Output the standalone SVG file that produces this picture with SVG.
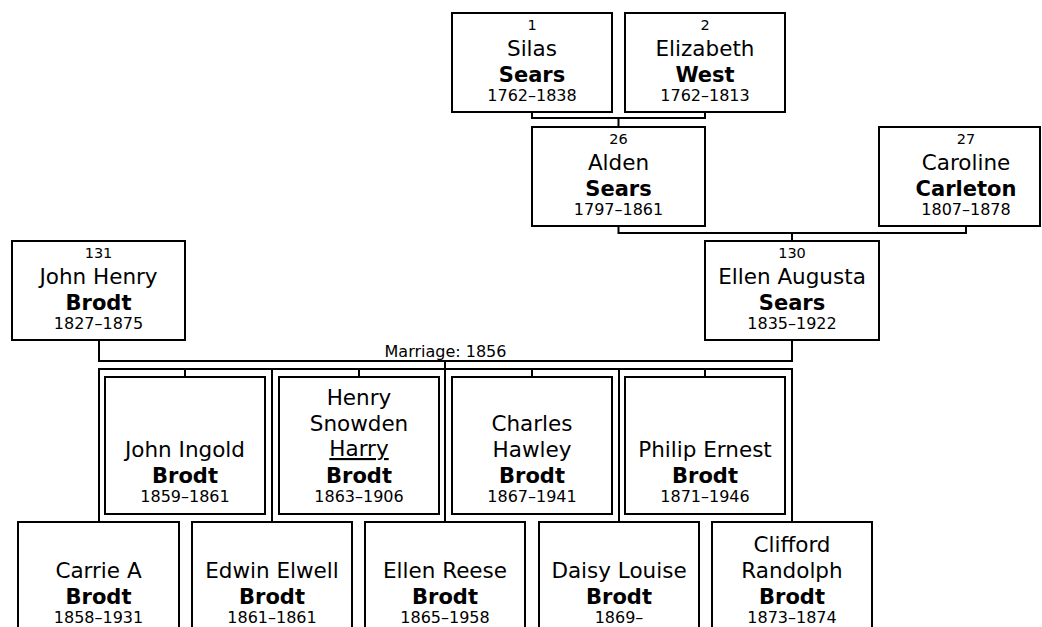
<svg xmlns="http://www.w3.org/2000/svg" width="1042" height="627" viewBox="0 0 1042 627">
<style>
.box{fill:#fff;stroke:#000;stroke-width:2}
.ln{fill:none;stroke:#000;stroke-width:2}
text{font-family:"DejaVu Sans",Verdana,sans-serif;fill:#000;text-anchor:middle}
.num{font-size:14.5px}
.nm{font-size:21.5px}
.sn{font-size:21px;font-weight:bold}
.dt{font-size:16px}
.mar{font-size:16px}
</style>
<rect width="1042" height="627" fill="#fff"/>
<g id="connectors">
<path class="ln" d="M532,111 V118 H705 V111 M618.5,118 V127"/>
<path class="ln" d="M618.5,226 V233 H966 V226 M792,233 V241"/>
<path class="ln" d="M99,340 V361 H792 V340 M445,361 V369"/>
<path class="ln" d="M99,522 V369 H792 V522 M272,369 V522 M445,369 V522 M619,369 V522"/>
<path class="ln" d="M185,369 V377 M359,369 V377 M532,369 V377 M705,369 V377"/>
<text class="mar" x="445.5" y="357">Marriage: 1856</text>
</g>
<g id="n1">
<rect class="box" x="452" y="13" width="160" height="99"/>
<text class="num" x="532" y="29.5">1</text>
<text class="nm" x="532" y="55.5">Silas</text>
<text class="sn" x="532" y="82">Sears</text>
<text class="dt" x="532" y="100.5">1762–1838</text>
</g>
<g id="n2">
<rect class="box" x="625" y="13" width="160" height="99"/>
<text class="num" x="705" y="29.5">2</text>
<text class="nm" x="705" y="55.5">Elizabeth</text>
<text class="sn" x="705" y="82">West</text>
<text class="dt" x="705" y="100.5">1762–1813</text>
</g>
<g id="n26">
<rect class="box" x="532" y="127" width="173" height="99"/>
<text class="num" x="618.5" y="143.5">26</text>
<text class="nm" x="618.5" y="169.5">Alden</text>
<text class="sn" x="618.5" y="196">Sears</text>
<text class="dt" x="618.5" y="214.5">1797–1861</text>
</g>
<g id="n27">
<rect class="box" x="879" y="127" width="161" height="99"/>
<text class="num" x="966" y="143.5">27</text>
<text class="nm" x="966" y="169.5">Caroline</text>
<text class="sn" x="966" y="196">Carleton</text>
<text class="dt" x="966" y="214.5">1807–1878</text>
</g>
<g id="n131">
<rect class="box" x="12" y="241" width="173" height="99"/>
<text class="num" x="98.5" y="257.5">131</text>
<text class="nm" x="98.5" y="284">John Henry</text>
<text class="sn" x="98.5" y="310">Brodt</text>
<text class="dt" x="98.5" y="328.5">1827–1875</text>
</g>
<g id="n130">
<rect class="box" x="705" y="241" width="174" height="99"/>
<text class="num" x="792" y="257.5">130</text>
<text class="nm" x="792" y="283.5">Ellen Augusta</text>
<text class="sn" x="792" y="310">Sears</text>
<text class="dt" x="792" y="328.5">1835–1922</text>
</g>
<g id="c_john_ingold">
<rect class="box" x="105" y="377" width="160" height="137"/>
<text class="nm" x="185" y="457">John Ingold</text>
<text class="sn" x="185" y="483">Brodt</text>
<text class="dt" x="185" y="502">1859–1861</text>
</g>
<g id="c_henry">
<rect class="box" x="279" y="377" width="160" height="137"/>
<text class="nm" x="359" y="405">Henry</text>
<text class="nm" x="359" y="431">Snowden</text>
<text class="nm" x="359" y="456" text-decoration="underline">Harry</text>
<text class="sn" x="359" y="483">Brodt</text>
<text class="dt" x="359" y="502">1863–1906</text>
</g>
<g id="c_charles">
<rect class="box" x="452" y="377" width="160" height="137"/>
<text class="nm" x="532" y="431">Charles</text>
<text class="nm" x="532" y="457">Hawley</text>
<text class="sn" x="532" y="483">Brodt</text>
<text class="dt" x="532" y="502">1867–1941</text>
</g>
<g id="c_philip">
<rect class="box" x="625" y="377" width="160" height="137"/>
<text class="nm" x="705" y="457">Philip Ernest</text>
<text class="sn" x="705" y="483">Brodt</text>
<text class="dt" x="705" y="502">1871–1946</text>
</g>
<g id="c_carrie">
<rect class="box" x="18" y="522" width="161" height="120"/>
<text class="nm" x="98.5" y="578">Carrie A</text>
<text class="sn" x="98.5" y="604">Brodt</text>
<text class="dt" x="98.5" y="623">1858–1931</text>
</g>
<g id="c_edwin">
<rect class="box" x="192" y="522" width="160" height="120"/>
<text class="nm" x="272" y="578">Edwin Elwell</text>
<text class="sn" x="272" y="604">Brodt</text>
<text class="dt" x="272" y="623">1861–1861</text>
</g>
<g id="c_ellen_reese">
<rect class="box" x="365" y="522" width="160" height="120"/>
<text class="nm" x="445" y="578">Ellen Reese</text>
<text class="sn" x="445" y="604">Brodt</text>
<text class="dt" x="445" y="623">1865–1958</text>
</g>
<g id="c_daisy">
<rect class="box" x="539" y="522" width="160" height="120"/>
<text class="nm" x="619" y="578">Daisy Louise</text>
<text class="sn" x="619" y="604">Brodt</text>
<text class="dt" x="619" y="623">1869–</text>
</g>
<g id="c_clifford">
<rect class="box" x="712" y="522" width="160" height="120"/>
<text class="nm" x="792" y="552">Clifford</text>
<text class="nm" x="792" y="578">Randolph</text>
<text class="sn" x="792" y="604">Brodt</text>
<text class="dt" x="792" y="623">1873–1874</text>
</g>
</svg>
